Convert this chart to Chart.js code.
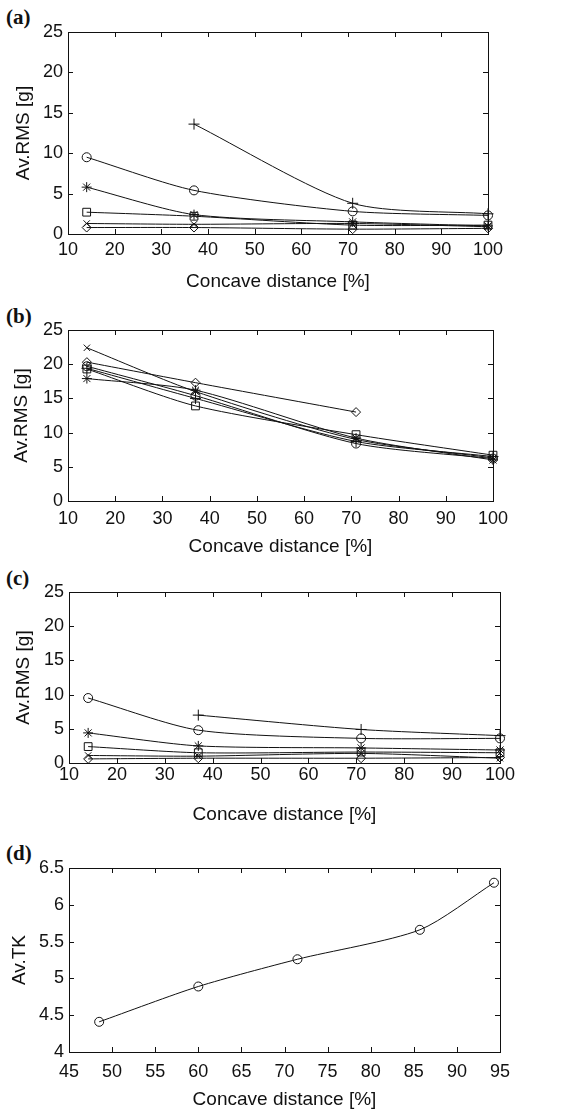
<!DOCTYPE html>
<html>
<head>
<meta charset="utf-8">
<script src="https://cdn.jsdelivr.net/npm/chart.js@4.4.1/dist/chart.umd.min.js"></script>
<style>
    body { margin: 0; background: #fff; width: 587px; height: 1114px; position: relative; overflow: hidden; }
    canvas { position: absolute; left: 0; }
    .tag { position: absolute; left: 6px; font: bold 21px "Liberation Serif", "DejaVu Serif", serif; color: #111; line-height: 21px; }
</style>
</head>
<body>
<div class="tag" style="top:7px">(a)</div>
<div class="tag" style="top:306px">(b)</div>
<div class="tag" style="top:568px">(c)</div>
<div class="tag" style="top:843px">(d)</div>

<canvas id="chartA" width="587" height="293" style="top:0px"></canvas>
<canvas id="chartB" width="587" height="278" style="top:280px"></canvas>
<canvas id="chartC" width="587" height="276" style="top:550px"></canvas>
<canvas id="chartD" width="587" height="281" style="top:830px"></canvas>

<script>
// 공통 x 위치 (a, b, c)
var distance = [14, 37, 71, 100];

// (a)
var aCircle  = [9.5, 5.4, 2.8, 2.3];
var aPlus    = [null, 13.6, 3.8, 2.5];
var aStar    = [5.8, 2.4, 1.5, 1.0];
var aSquare  = [2.7, 2.2, 1.1, 1.1];
var aCross   = [1.3, 1.2, 1.3, 0.9];
var aDiamond = [0.8, 0.8, 0.6, 0.7];

// (b)
var bCross   = [22.4, 16.0, 9.0, 6.3];
var bDiamond = [20.3, 17.3, 13.0, null];
var bCircle  = [19.7, 15.4, 8.4, 6.2];
var bSquare  = [19.3, 13.9, 9.7, 6.7];
var bStar    = [17.9, 16.2, 9.2, 6.0];
var bPlus    = [19.4, 15.0, 8.7, 6.5];

// (c)
var cCircle  = [9.5, 4.8, 3.6, 3.6];
var cPlus    = [null, 7.0, 4.9, 4.0];
var cStar    = [4.4, 2.5, 2.2, 1.9];
var cSquare  = [2.4, 1.5, 1.6, 1.5];
var cCross   = [1.1, 1.0, 1.4, 0.7];
var cDiamond = [0.6, 0.7, 0.7, 0.8];

// (d)
var dDistance = [48.5, 60, 71.5, 85.7, 94.3];
var dTK       = [4.41, 4.89, 5.26, 5.66, 6.30];

var rmsTicks = [0, 5, 10, 15, 20, 25];
var tkTicks = [4, 4.5, 5, 5.5, 6, 6.5];

// 마커 모양
var markers = {
    circle:  { pointStyle: 'circle',   pointRadius: 4.5 },
    plus:    { pointStyle: 'cross',    pointRadius: 5.5 },
    star:    { pointStyle: 'star',     pointRadius: 5 },
    square:  { pointStyle: 'rect',     pointRadius: 5.5 },
    cross:   { pointStyle: 'crossRot', pointRadius: 4.5 },
    diamond: { pointStyle: 'rectRot',  pointRadius: 4.5 }
};

function makeSet(xs, ys, marker) {
    var pts = [];
    for (var i = 0; i < xs.length; i++) {
        pts.push({ x: xs[i], y: ys[i] });
    }
    return {
        label: marker,
        data: pts,
        showLine: true,
        tension: 0.25,
        borderColor: '#111',
        borderWidth: 1,
        pointBorderColor: '#111',
        pointBackgroundColor: 'rgba(255,255,255,0)',
        pointBorderWidth: 1,
        pointStyle: markers[marker].pointStyle,
        pointRadius: markers[marker].pointRadius,
        clip: false
    };
}

// 테두리 + 안쪽 눈금
var frameTicks = {
    id: 'frameTicks',
    beforeDatasetsDraw: function (chart) {
        var ctx = chart.ctx;
        var a = chart.chartArea;
        var len = 5;
        ctx.save();
        ctx.strokeStyle = '#111';
        ctx.lineWidth = 1;
        ctx.strokeRect(Math.round(a.left) + 0.5, Math.round(a.top) + 0.5,
            Math.round(a.right - a.left), Math.round(a.bottom - a.top));
        ctx.beginPath();
        var xs = chart.scales.x;
        for (var i = 0; i < xs.ticks.length; i++) {
            var px = Math.round(xs.getPixelForTick(i)) + 0.5;
            ctx.moveTo(px, a.bottom); ctx.lineTo(px, a.bottom - len);
            ctx.moveTo(px, a.top); ctx.lineTo(px, a.top + len);
        }
        var ys = chart.scales.y;
        for (var j = 0; j < ys.ticks.length; j++) {
            var py = Math.round(ys.getPixelForTick(j)) + 0.5;
            ctx.moveTo(a.left, py); ctx.lineTo(a.left + len, py);
            ctx.moveTo(a.right, py); ctx.lineTo(a.right - len, py);
        }
        ctx.stroke();
        ctx.restore();
    }
};

var tickFont = { family: '"Liberation Sans", Arial, sans-serif', size: 18 };
var titleFont = { family: '"Liberation Sans", Arial, sans-serif', size: 19 };

function drawPanel(canvasId, datasets, cfg) {
    var ctx = document.getElementById(canvasId).getContext('2d');
    return new Chart(ctx, {
        type: 'scatter',
        data: { datasets: datasets },
        options: {
            responsive: false,
            animation: false,
            layout: {
                padding: { top: cfg.top, right: cfg.right, left: 0, bottom: 0 }
            },
            plugins: {
                legend: { display: false },
                tooltip: { enabled: false }
            },
            scales: {
                x: {
                    type: 'linear',
                    min: cfg.xMin, max: cfg.xMax,
                    afterBuildTicks: function (scale) {
                        scale.ticks = cfg.xTicks.map(function (v) { return { value: v }; });
                    },
                    ticks: {
                        color: '#111', font: tickFont, padding: cfg.xPad, maxRotation: 0,
                        callback: function (v) { return String(v); }
                    },
                    grid: { display: false, drawTicks: false },
                    border: { display: false },
                    title: {
                        display: true, text: 'Concave distance [%]', color: '#111',
                        font: titleFont, padding: { top: 0, bottom: 0 }
                    },
                    afterFit: function (scale) { scale.height = cfg.xHeight; }
                },
                y: {
                    type: 'linear',
                    min: cfg.yTicks[0], max: cfg.yTicks[cfg.yTicks.length - 1],
                    afterBuildTicks: function (scale) {
                        scale.ticks = cfg.yTicks.map(function (v) { return { value: v }; });
                    },
                    ticks: {
                        color: '#111', font: tickFont, padding: 5,
                        callback: function (v) { return String(v); }
                    },
                    grid: { display: false, drawTicks: false },
                    border: { display: false },
                    title: {
                        display: true, text: cfg.yTitle, color: '#111',
                        font: titleFont, padding: { top: cfg.yTitlePad, bottom: 0 }
                    },
                    afterFit: function (scale) { scale.width = cfg.left; }
                }
            }
        },
        plugins: [frameTicks]
    });
}

var xTicks10 = [10, 20, 30, 40, 50, 60, 70, 80, 90, 100];

drawPanel('chartA', [
    makeSet(distance, aPlus, 'plus'),
    makeSet(distance, aCircle, 'circle'),
    makeSet(distance, aStar, 'star'),
    makeSet(distance, aSquare, 'square'),
    makeSet(distance, aCross, 'cross'),
    makeSet(distance, aDiamond, 'diamond')
], { top: 32, right: 99, left: 68, xHeight: 59, xPad: 5, xMin: 10, xMax: 100, xTicks: xTicks10,
     yTicks: rmsTicks, yTitle: 'Av.RMS [g]', yTitlePad: 12 });

drawPanel('chartB', [
    makeSet(distance, bCross, 'cross'),
    makeSet(distance, bDiamond, 'diamond'),
    makeSet(distance, bCircle, 'circle'),
    makeSet(distance, bSquare, 'square'),
    makeSet(distance, bStar, 'star'),
    makeSet(distance, bPlus, 'plus')
], { top: 50, right: 94, left: 68, xHeight: 57, xPad: 7, xMin: 10, xMax: 100, xTicks: xTicks10,
     yTicks: rmsTicks, yTitle: 'Av.RMS [g]', yTitlePad: 10 });

drawPanel('chartC', [
    makeSet(distance, cPlus, 'plus'),
    makeSet(distance, cCircle, 'circle'),
    makeSet(distance, cStar, 'star'),
    makeSet(distance, cSquare, 'square'),
    makeSet(distance, cCross, 'cross'),
    makeSet(distance, cDiamond, 'diamond')
], { top: 42, right: 87, left: 69, xHeight: 63, xPad: 1, xMin: 10, xMax: 100, xTicks: xTicks10,
     yTicks: rmsTicks, yTitle: 'Av.RMS [g]', yTitlePad: 12 });

drawPanel('chartD', [
    makeSet(dDistance, dTK, 'circle')
], { top: 38, right: 87, left: 69, xHeight: 59, xPad: 9, xMin: 45, xMax: 95,
     xTicks: [45, 50, 55, 60, 65, 70, 75, 80, 85, 90, 95],
     yTicks: tkTicks, yTitle: 'Av.TK', yTitlePad: 8 });
</script>
</body>
</html>
